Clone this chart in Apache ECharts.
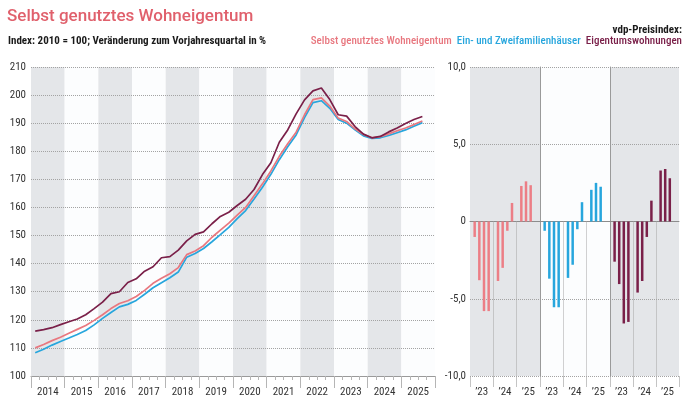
<!DOCTYPE html>
<html>
<head>
<meta charset="utf-8">
<script src="https://cdn.jsdelivr.net/npm/echarts@6/dist/echarts.min.js"></script>
<style>
html,body{margin:0;padding:0;background:#ffffff;}
#c{width:686px;height:413px;}
</style>
</head>
<body>
<div id="c"></div>
<script>
// ---------- data ----------
const years = ['2014','2015','2016','2017','2018','2019','2020','2021','2022','2023','2024','2025'];
const quarterNames = ['Q1','Q2','Q3','Q4'];
const seriesNames = ['Selbst genutztes Wohneigentum', 'Ein- und Zweifamilienhäuser', 'Eigentumswohnungen'];

// Index 2010 = 100, quarterly from Q1 2014 to Q3 2025
const indexSelbst = [
  110.0, 111.2, 112.6, 113.8, 115.2, 116.6, 118.0, 119.8,
  121.8, 124.0, 125.8, 126.8, 128.3, 130.5, 133.0, 134.8,
  136.4, 138.6, 143.2, 144.5, 146.4, 149.4, 151.9, 154.4,
  157.3, 160.0, 164.2, 168.4, 173.0, 178.2, 182.7, 186.8,
  193.0, 198.4, 199.0, 196.1, 191.8, 190.6, 188.0, 186.0,
  184.8, 185.2, 186.2, 187.3, 188.3, 189.5, 190.8
];
const indexEZFH = [
  108.3, 109.5, 111.0, 112.3, 113.5, 114.8, 116.2, 118.2,
  120.5, 122.6, 124.6, 125.5, 126.9, 129.1, 131.4, 133.2,
  135.0, 137.0, 142.3, 143.6, 145.4, 147.8, 150.3, 152.9,
  156.0, 158.9, 163.0, 167.2, 171.8, 177.0, 181.6, 185.8,
  192.0, 197.3, 198.0, 195.3, 191.3, 190.0, 187.6, 185.5,
  184.6, 184.8, 185.6, 186.6, 187.6, 188.9, 190.2
];
const indexETW = [
  116.0, 116.5, 117.2, 118.3, 119.3, 120.3, 121.8, 124.0,
  126.3, 129.3, 130.0, 133.3, 134.6, 137.3, 138.9, 142.1,
  142.5, 144.8, 148.1, 150.4, 151.3, 154.2, 156.8, 158.3,
  160.7, 162.9, 166.4, 171.7, 175.9, 183.2, 187.6, 193.3,
  198.3, 201.5, 202.5, 198.4, 193.0, 192.5, 188.8, 186.1,
  184.8, 185.3, 186.9, 188.3, 189.9, 191.3, 192.4
];

// Change vs. previous-year quarter in %, Q1 2023 to Q3 2025
const barYears = ['2023','2024','2025'];
const barYearLabels = ['\u201923','\u201924','\u201925'];
const changeSelbst = [-1.0, -3.8, -5.8, -5.8, -3.85, -3.0, -0.6, 1.2, 2.3, 2.6, 2.35];
const changeEZFH   = [-0.6, -3.7, -5.55, -5.55, -3.65, -2.8, -0.5, 1.25, 2.05, 2.5, 2.25];
const changeETW    = [-2.6, -4.05, -6.6, -6.5, -4.6, -3.85, -1.0, 1.35, 3.3, 3.4, 2.8];

const indexTicks = [100, 210, 10];
const changeTicks = [-10, 10, 5];

// ---------- style ----------
const C_RED = '#e8777f', C_RED_BAR = '#ec7e86';
const C_BLUE = '#27a6dd';
const C_PURPLE = '#7a2049';
const FONT = "'Liberation Sans Narrow', 'Roboto Condensed', 'DejaVu Sans Condensed', Roboto, sans-serif";
const TXT = '#333333';
const GRAY_BAND = '#e4e6e9';
const WHITE_BAND = '#fcfdfe';

// ---------- derived categories ----------
const quarters = years.flatMap(y => quarterNames.map(q => q + ' ' + y));
const barCats = [];
barYears.forEach(y => { barCats.push('Start ' + y); quarterNames.forEach(q => barCats.push(q + ' ' + y)); });
barCats.push('Ende');
function barData(values) {
  const out = [];
  let i = 0;
  barYears.forEach(y => {
    out.push(null);
    quarterNames.forEach(() => { out.push(i < values.length ? values[i] : null); i++; });
  });
  out.push(null);
  return out;
}

const chart = echarts.init(document.getElementById('c'), null, {renderer: 'canvas'});

const panelLefts = [470, 540, 610];
const panelWidths = [70, 70, 69];
const panelBg = [GRAY_BAND, WHITE_BAND, GRAY_BAND];
const barSets = [changeSelbst, changeEZFH, changeETW];
const barColors = [C_RED_BAR, C_BLUE, C_PURPLE];

const grids = [{left: 31, top: 67, width: 404, height: 309, containLabel: false}];
panelLefts.forEach((l, i) => grids.push({
  left: l, top: 67, width: panelWidths[i], height: 309,
  show: true, backgroundColor: panelBg[i], borderWidth: 0
}));

const xAxes = [
  { // quarters for lines
    type: 'category', gridIndex: 0, data: quarters, boundaryGap: true, position: 'bottom', z: 3,
    axisLine: {show: true, lineStyle: {color: '#9a9a9a', width: 1}},
    axisTick: {show: true, interval: 0, length: 4, lineStyle: {color: '#b5b5b5'}},
    axisLabel: {show: false}, splitLine: {show: false}
  },
  { // years labels and bands
    type: 'category', gridIndex: 0, data: years, boundaryGap: true, position: 'bottom', z: 0,
    axisLine: {show: false, onZero: false},
    axisTick: {show: true, interval: 0, length: 12, lineStyle: {color: '#b5b5b5'}},
    axisLabel: {show: true, interval: 0, margin: 11, fontSize: 11, color: TXT, fontFamily: FONT},
    splitArea: {show: true, interval: 0, areaStyle: {color: [GRAY_BAND, WHITE_BAND]}},
    splitLine: {show: false}
  }
];
// bar axes
[0,1,2].forEach(i => xAxes.push({
  type: 'category', gridIndex: i + 1, data: barCats, boundaryGap: false, position: 'bottom', z: 3,
  axisLine: {show: true, onZero: true, lineStyle: {color: '#8c8c8c', width: 1}},
  axisTick: {show: false}, axisLabel: {show: false}, splitLine: {show: false}
}));
// bar year label axes
[0,1,2].forEach(i => xAxes.push({
  type: 'category', gridIndex: i + 1, data: barYearLabels, boundaryGap: true, position: 'bottom', z: 1,
  axisLine: {show: false, onZero: false},
  axisTick: {show: true, interval: 0, length: 11, lineStyle: {color: '#c4c4c4'}},
  axisLabel: {show: true, interval: 0, margin: 11, fontSize: 11, color: TXT, fontFamily: FONT},
  splitLine: {show: false}
}));

const yAxes = [{
  type: 'value', gridIndex: 0, min: indexTicks[0], max: indexTicks[1], interval: indexTicks[2], z: 2,
  axisLine: {show: false}, axisTick: {show: false},
  axisLabel: {margin: 5, fontSize: 11, color: TXT, fontFamily: FONT},
  splitLine: {show: true, lineStyle: {color: '#a3a3a3', type: 'dotted', width: 1}}
}];
[0,1,2].forEach(i => yAxes.push({
  type: 'value', gridIndex: i + 1, min: changeTicks[0], max: changeTicks[1], interval: changeTicks[2], z: 2,
  axisLine: {show: i > 0, onZero: false, lineStyle: {color: '#9a9a9a', width: 1}},
  axisTick: {show: false},
  axisLabel: {show: i === 0, margin: 4, fontSize: 11, color: TXT, fontFamily: FONT,
    formatter: v => v === 0 ? '0' : v.toFixed(1).replace('.', ',')},
  splitLine: {show: true, lineStyle: {color: '#a3a3a3', type: 'dotted', width: 1}}
}));

const lineSeries = [
  {name: seriesNames[1], data: indexEZFH, color: C_BLUE},
  {name: seriesNames[0], data: indexSelbst, color: C_RED},
  {name: seriesNames[2], data: indexETW, color: C_PURPLE}
].map(s => ({
  type: 'line', name: s.name, xAxisIndex: 0, yAxisIndex: 0, data: s.data,
  symbol: 'none', smooth: false, lineStyle: {color: s.color, width: 1.7}, itemStyle: {color: s.color},
  z: 5, silent: true
}));

const barSeries = barSets.map((vals, i) => ({
  type: 'bar', name: seriesNames[i], xAxisIndex: 2 + i, yAxisIndex: 1 + i,
  data: barData(vals), barWidth: 2.5, itemStyle: {color: barColors[i]}, silent: true, z: 5,
  markLine: {
    silent: true, symbol: 'none', label: {show: false},
    lineStyle: {color: '#a3a3a3', type: 'dotted', width: 1},
    data: barYears.slice(1).map(y => [{coord: ['Start ' + y, 0]}, {coord: ['Start ' + y, changeTicks[0]]}])
  }
}));

const option = {
  animation: false,
  backgroundColor: '#ffffff',
  title: [
    {text: 'Selbst genutztes Wohneigentum', left: 7, top: 8, padding: 0,
     textStyle: {fontFamily: 'Roboto', fontWeight: 500, fontSize: 17, color: '#e0606c'}},
    {text: 'Index: 2010 = 100; Veränderung zum Vorjahresquartal in %', left: 8, top: 36, padding: 0,
     textStyle: {fontFamily: FONT, fontWeight: 'bold', fontSize: 11, color: '#1a1a1a'}},
    {text: 'vdp-Preisindex:', right: 4, top: 25, padding: 0,
     textStyle: {fontFamily: FONT, fontWeight: 'bold', fontSize: 11, color: '#1a1a1a'}},
    {text: '{a|' + seriesNames[0] + '}  {b|' + seriesNames[1] + '}  {c|' + seriesNames[2] + '}',
     right: 4, top: 36, padding: 0,
     textStyle: {fontFamily: FONT, fontSize: 11, rich: {
       a: {color: C_RED, fontFamily: FONT, fontSize: 11, fontWeight: 500},
       b: {color: C_BLUE, fontFamily: FONT, fontSize: 11, fontWeight: 500},
       c: {color: C_PURPLE, fontFamily: FONT, fontSize: 11, fontWeight: 500}
     }}}
  ],
  grid: grids,
  xAxis: xAxes,
  yAxis: yAxes,
  series: lineSeries.concat(barSeries)
};
chart.setOption(option);
</script>
</body>
</html>
